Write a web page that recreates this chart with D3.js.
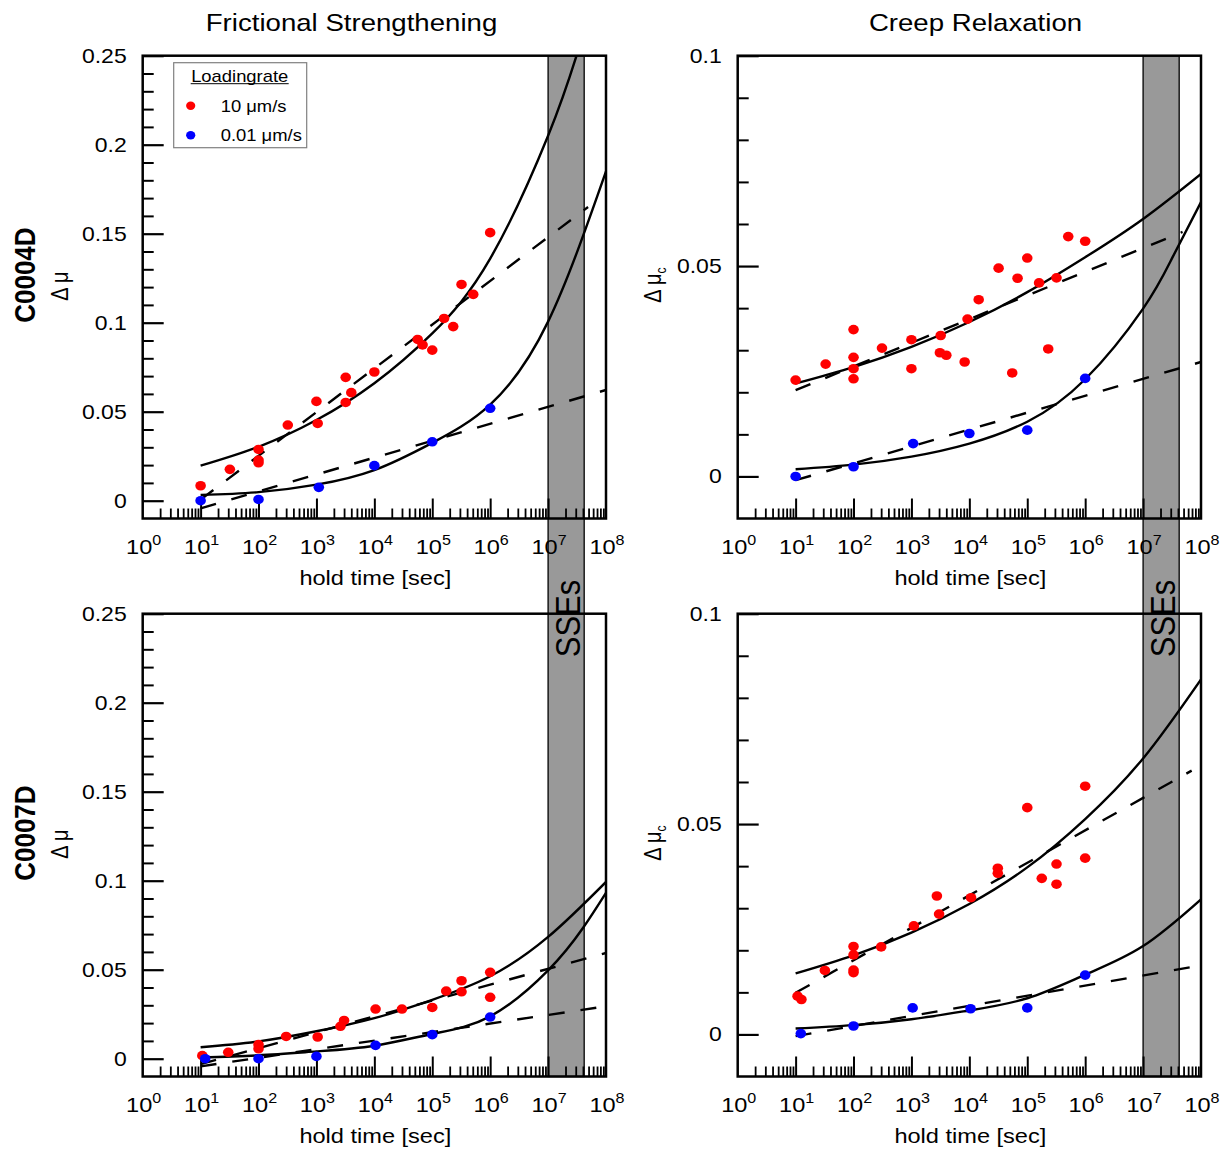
<!DOCTYPE html>
<html>
<head>
<meta charset="utf-8">
<script src="https://cdn.jsdelivr.net/npm/d3@7"></script>
<style>
  body { margin: 0; background: #fff; }
  svg { display: block; }
  text { font-family: "Liberation Sans", Arial, sans-serif; fill: #000; }
</style>
</head>
<body>
<svg id="chart" width="1227" height="1151"></svg>
<script>
// ---------- labels and ticks ----------
const columnTitles = ["Frictional Strengthening", "Creep Relaxation"];
const rowLabels = ["C0004D", "C0007D"];
const seriesLabels = ["10 μm/s", "0.01 μm/s"];
const legendTitle = "Loadingrate";
const xAxisLabel = "hold time [sec]";
const bandLabel = "SSEs";
const decadeExponents = [0, 1, 2, 3, 4, 5, 6, 7, 8];
const frictionYTicks = [0, 0.05, 0.1, 0.15, 0.2, 0.25];
const creepYTicks = [0, 0.05, 0.1];
const sseWindow = [1e7, 4.2e7];
const decadeTimes = [10, 1e2, 1e3, 1e4, 1e5, 1e6, 1e7, 1e8];

// ---------- C0004D, frictional strengthening ----------
const fs04FastTime = [10, 32, 100, 100, 100, 320, 1000, 1050, 3200, 3200, 4000, 1e4, 5.6e4, 6.8e4, 1e5, 1.6e5, 2.3e5, 3.2e5, 5.1e5, 1e6];
const fs04FastMu   = [0.0084, 0.0176, 0.0288, 0.0228, 0.0213, 0.0425, 0.0558, 0.0434, 0.0693, 0.0552, 0.0607, 0.0723, 0.0906, 0.0875, 0.0846, 0.1024, 0.0978, 0.1215, 0.1159, 0.1506];
const fs04SlowTime = [10, 100, 1100, 1e4, 1e5, 1e6];
const fs04SlowMu   = [0.0, 0.0007, 0.0075, 0.0197, 0.0331, 0.0519];
const fs04FastFitTime = [10, 1e2, 1e3, 1e4, 1e5, 1e6, 1e7, 3.1e7];
const fs04FastFitMu   = [0.0197, 0.0303, 0.0453, 0.066, 0.094, 0.136, 0.205, 0.25];
const fs04SlowFitMu   = [0.0032, 0.0048, 0.0090, 0.0172, 0.0325, 0.054, 0.1006, 0.185];
const fs04FastTrendTime = [10, 4.9e7];
const fs04FastTrendMu   = [0.0006, 0.165];
const fs04SlowTrendTime = [10, 1e8];
const fs04SlowTrendMu   = [-0.0043, 0.0622];

// ---------- C0004D, creep relaxation ----------
const cr04FastTime = [10, 33, 100, 100, 100, 100, 310, 1000, 1000, 3200, 3100, 4000, 8300, 9300, 14500, 32000, 55000, 68000, 1e5, 1.6e5, 2.3e5, 3.2e5, 5.1e5, 1e6];
const cr04FastMu   = [0.0229, 0.0267, 0.0349, 0.0283, 0.0256, 0.0232, 0.0305, 0.0325, 0.0256, 0.0335, 0.0294, 0.0288, 0.0272, 0.0374, 0.042, 0.0495, 0.0246, 0.0471, 0.0519, 0.046, 0.0303, 0.0472, 0.057, 0.0559];
const cr04SlowTime = [10, 100, 1070, 1e4, 1e5, 1e6];
const cr04SlowMu   = [0.0, 0.0023, 0.0078, 0.0102, 0.011, 0.0233];
const cr04FastFitMu   = [0.0221, 0.026, 0.0308, 0.0367, 0.0438, 0.0521, 0.0612, 0.0719];
const cr04SlowFitTime = [10, 1e2, 1e3, 1e4, 1e5, 1e6, 1e7, 3.2e7, 1e8];
const cr04SlowFitMu   = [0.0017, 0.0028, 0.0047, 0.0078, 0.013, 0.0231, 0.0399, 0.052, 0.0652];
const cr04FastTrendTime = [10, 4.8e7];
const cr04FastTrendMu   = [0.0205, 0.0581];
const cr04SlowTrendTime = [10, 1e8];
const cr04SlowTrendMu   = [-0.0009, 0.0272];

// ---------- C0007D, frictional strengthening ----------
const fs07FastTime = [10.7, 30, 100, 100, 300, 1050, 2600, 3000, 1.05e4, 3e4, 1e5, 1.74e5, 3.2e5, 3.2e5, 1e6, 1e6];
const fs07FastMu   = [0.0017, 0.0036, 0.0079, 0.0056, 0.0125, 0.0122, 0.0182, 0.0215, 0.0279, 0.0279, 0.0288, 0.038, 0.0438, 0.0376, 0.0485, 0.0345];
const fs07SlowTime = [12, 100, 1000, 1.05e4, 1e5, 1e6];
const fs07SlowMu   = [0.0, 0.0, 0.0013, 0.0075, 0.0135, 0.0234];
const fs07FastFitMu   = [0.0064, 0.0097, 0.0154, 0.0228, 0.0331, 0.0463, 0.0684, 0.0993];
const fs07SlowFitTime = [10, 1e2, 1e3, 1e4, 1e5, 1e6, 1e7, 4e7, 1e8];
const fs07SlowFitMu   = [0.0007, 0.0019, 0.0041, 0.0073, 0.0139, 0.0238, 0.0496, 0.0734, 0.0932];
const fs07FastTrendTime = [10, 1e8];
const fs07FastTrendMu   = [-0.003, 0.0594];
const fs07SlowTrendTime = [10, 1e8];
const fs07SlowTrendMu   = [-0.0043, 0.0294];

// ---------- C0007D, creep relaxation ----------
const cr07FastTime = [10.8, 12.6, 32, 100, 100, 100, 100, 300, 1100, 2750, 3000, 1.07e4, 3.1e4, 3.1e4, 1e5, 1.78e5, 3.2e5, 3.2e5, 1e6, 1e6];
const cr07FastMu   = [0.0091, 0.0083, 0.0152, 0.0209, 0.0189, 0.0153, 0.0147, 0.0208, 0.0258, 0.0329, 0.0286, 0.0325, 0.0395, 0.0383, 0.0539, 0.0371, 0.0405, 0.0357, 0.059, 0.0419];
const cr07SlowTime = [12.3, 100, 1050, 1.05e4, 1e5, 1e6];
const cr07SlowMu   = [0.0002, 0.002, 0.0063, 0.0061, 0.0063, 0.0141];
const cr07FastFitMu = [0.0145, 0.0188, 0.0242, 0.031, 0.0397, 0.0512, 0.0656, 0.0844];
const cr07SlowFitMu = [0.0014, 0.0022, 0.0036, 0.0057, 0.0086, 0.0142, 0.021, 0.0321];
const cr07FastTrendTime = [10, 6.9e7];
const cr07FastTrendMu   = [0.0099, 0.0627];
const cr07SlowTrendTime = [10, 1e8];
const cr07SlowTrendMu   = [-0.0004, 0.0164];

// ---------- layout ----------
const SX = 1.15;                 // horizontal stretch applied to all lettering
const colLeft = [142.7, 737.7];
const rowTop = [55.7, 613.7];
const PW = 463.3, PH = 462.8;
const FAST = "#ff0000", SLOW = "#0000ff";

const zip = (a, b) => a.map((v, i) => [v, b[i]]);

const panels = [
  { col: 0, row: 0, yMax: 0.25, yTicks: frictionYTicks, legend: true,
    fast: zip(fs04FastTime, fs04FastMu), slow: zip(fs04SlowTime, fs04SlowMu),
    fastFit: zip(fs04FastFitTime, fs04FastFitMu), slowFit: zip(decadeTimes, fs04SlowFitMu),
    fastTrend: zip(fs04FastTrendTime, fs04FastTrendMu), slowTrend: zip(fs04SlowTrendTime, fs04SlowTrendMu) },
  { col: 1, row: 0, yMax: 0.1, yTicks: creepYTicks,
    fast: zip(cr04FastTime, cr04FastMu), slow: zip(cr04SlowTime, cr04SlowMu),
    fastFit: zip(decadeTimes, cr04FastFitMu), slowFit: zip(cr04SlowFitTime, cr04SlowFitMu),
    fastTrend: zip(cr04FastTrendTime, cr04FastTrendMu), slowTrend: zip(cr04SlowTrendTime, cr04SlowTrendMu) },
  { col: 0, row: 1, yMax: 0.25, yTicks: frictionYTicks,
    fast: zip(fs07FastTime, fs07FastMu), slow: zip(fs07SlowTime, fs07SlowMu),
    fastFit: zip(decadeTimes, fs07FastFitMu), slowFit: zip(fs07SlowFitTime, fs07SlowFitMu),
    fastTrend: zip(fs07FastTrendTime, fs07FastTrendMu), slowTrend: zip(fs07SlowTrendTime, fs07SlowTrendMu) },
  { col: 1, row: 1, yMax: 0.1, yTicks: creepYTicks,
    fast: zip(cr07FastTime, cr07FastMu), slow: zip(cr07SlowTime, cr07SlowMu),
    fastFit: zip(decadeTimes, cr07FastFitMu), slowFit: zip(decadeTimes, cr07SlowFitMu),
    fastTrend: zip(cr07FastTrendTime, cr07FastTrendMu), slowTrend: zip(cr07SlowTrendTime, cr07SlowTrendMu) }
];

const svg = d3.select("#chart");
const defs = svg.append("defs");
const bandLayer = svg.append("g");
const plotLayer = svg.append("g");
const textLayer = svg.append("g");

// stretched text helper
function addText(parent, x, y, opts = {}) {
  const { size = 19, anchor = "start", weight = "normal", rotate = 0 } = opts;
  return parent.append("text")
    .attr("transform", `translate(${x},${y}) scale(${SX},1)` + (rotate ? ` rotate(${rotate})` : ""))
    .attr("font-size", size)
    .attr("text-anchor", anchor)
    .attr("font-weight", weight);
}

const xScales = colLeft.map(l => d3.scaleLog().domain([1, 1e8]).range([l, l + PW]));

// SSE window band spanning both rows of each column
colLeft.forEach((l, c) => {
  const x = xScales[c];
  const bx0 = x(sseWindow[0]), bx1 = x(sseWindow[1]);
  bandLayer.append("rect")
    .attr("x", bx0).attr("y", rowTop[0])
    .attr("width", bx1 - bx0).attr("height", rowTop[1] + PH - rowTop[0])
    .attr("fill", "#999999").attr("stroke", "#000").attr("stroke-width", 1.3);
  addText(textLayer, bx1 - 4, rowTop[0] + PH + 100, { size: 31, anchor: "middle", rotate: -90 })
    .attr("fill", "#1a1a1a").text(bandLabel);
});

const xMajor = d3.range(1, 8).map(e => Math.pow(10, e));
const xMinor = [];
for (let e = 0; e < 8; e++) for (let k = 2; k <= 9; k++) xMinor.push(k * Math.pow(10, e));

panels.forEach(p => {
  const x0 = colLeft[p.col], y0 = rowTop[p.row];
  const x = xScales[p.col];
  const y = d3.scaleLinear().domain([-0.01, p.yMax]).range([y0 + PH, y0]);
  const g = plotLayer.append("g");
  const clipId = `clip-${p.col}-${p.row}`;
  defs.append("clipPath").attr("id", clipId)
    .append("rect").attr("x", x0).attr("y", y0).attr("width", PW).attr("height", PH);

  const styleAxis = (sel, w) => {
    sel.select(".domain").remove();
    sel.selectAll(".tick line").attr("stroke", "#000").attr("stroke-width", w);
  };

  // inward ticks on the bottom edge
  g.append("g").attr("transform", `translate(0,${y0 + PH})`)
    .call(d3.axisBottom(x).tickValues(xMinor).tickSize(-10).tickFormat(""))
    .call(s => styleAxis(s, 1.8));
  g.append("g").attr("transform", `translate(0,${y0 + PH})`)
    .call(d3.axisBottom(x).tickValues(xMajor).tickSize(-20).tickFormat(""))
    .call(s => styleAxis(s, 2));

  // inward ticks on the left edge
  const nSteps = Math.round(p.yMax * 100);
  const yMinor = d3.range(1, nSteps).map(i => i / 100).filter(v => Math.round(v * 100) % 5 !== 0);
  g.append("g").attr("transform", `translate(${x0},0)`)
    .call(d3.axisLeft(y).tickValues(yMinor).tickSize(-11).tickFormat(""))
    .call(s => styleAxis(s, 2));
  g.append("g").attr("transform", `translate(${x0},0)`)
    .call(d3.axisLeft(y).tickValues(p.yTicks).tickSize(-21).tickFormat(""))
    .call(s => styleAxis(s, 2.2));

  // frame
  g.append("rect").attr("x", x0).attr("y", y0).attr("width", PW).attr("height", PH)
    .attr("fill", "none").attr("stroke", "#000").attr("stroke-width", 2.5);

  // tick labels
  decadeExponents.forEach(e => {
    const t = addText(textLayer, x(Math.pow(10, e)) + 1, y0 + PH + 35, { size: 20.5, anchor: "middle" });
    t.append("tspan").text("10");
    t.append("tspan").attr("font-size", 14).attr("dy", -8.5).text(String(e));
  });
  p.yTicks.forEach(v => {
    addText(textLayer, x0 - 16, y(v) + 7, { size: 20, anchor: "end" })
      .text(String(+v.toFixed(2)));
  });
  addText(textLayer, x0 + PW / 2 + 1, y0 + PH + 66, { size: 20.5, anchor: "middle" }).text(xAxisLabel);

  // fitted curves and log-linear trends
  const line = d3.line().x(d => x(d[0])).y(d => y(d[1]));
  const curves = g.append("g").attr("clip-path", `url(#${clipId})`)
    .attr("fill", "none").attr("stroke", "#000").attr("stroke-width", 2.4);
  [p.fastFit, p.slowFit].forEach(d => {
    curves.append("path").attr("d", line.curve(d3.curveNatural)(d));
  });
  [p.fastTrend, p.slowTrend].forEach(d => {
    curves.append("path").attr("d", line.curve(d3.curveLinear)(d))
      .attr("stroke-dasharray", "16,16");
  });

  // measurements
  const dots = g.append("g").attr("clip-path", `url(#${clipId})`);
  dots.selectAll(".fast").data(p.fast).join("ellipse").attr("class", "fast")
    .attr("cx", d => x(d[0])).attr("cy", d => y(d[1])).attr("rx", 5.3).attr("ry", 4.8).attr("fill", FAST);
  dots.selectAll(".slow").data(p.slow).join("ellipse").attr("class", "slow")
    .attr("cx", d => x(d[0])).attr("cy", d => y(d[1])).attr("rx", 5.3).attr("ry", 4.8).attr("fill", SLOW);

  // legend
  if (p.legend) {
    const lg = g.append("g");
    lg.append("rect").attr("x", x0 + 31).attr("y", y0 + 7).attr("width", 133).attr("height", 85)
      .attr("fill", "#fff").attr("stroke", "#808080").attr("stroke-width", 1.2);
    addText(lg, x0 + 97, y0 + 26, { size: 16, anchor: "middle" }).text(legendTitle);
    lg.append("line").attr("x1", x0 + 48).attr("x2", x0 + 146).attr("y1", y0 + 28).attr("y2", y0 + 28)
      .attr("stroke", "#000").attr("stroke-width", 1);
    [FAST, SLOW].forEach((c, i) => {
      lg.append("ellipse").attr("cx", x0 + 48).attr("cy", y0 + 50 + i * 29.6)
        .attr("rx", 4.6).attr("ry", 4.2).attr("fill", c);
      addText(lg, x0 + 78, y0 + 56 + i * 29.6, { size: 16 }).text(seriesLabels[i]);
    });
  }
});

// column titles
addText(textLayer, 351.5, 31, { size: 24, anchor: "middle" }).text(columnTitles[0]);
addText(textLayer, 975.5, 31, { size: 24, anchor: "middle" }).text(columnTitles[1]);

// row labels and y-axis titles
rowTop.forEach((t, r) => {
  const cy = t + PH / 2;
  addText(textLayer, 35, cy - 12, { size: 26, weight: "bold", anchor: "middle", rotate: -90 }).text(rowLabels[r]);
  addText(textLayer, 68, cy - 1, { size: 20, anchor: "middle", rotate: -90 }).text("Δ μ");
  const lc = addText(textLayer, 661, cy - 2, { size: 20, anchor: "middle", rotate: -90 });
  lc.append("tspan").text("Δ μ");
  lc.append("tspan").attr("font-size", 12).attr("dy", 4).text("c");
});
</script>
</body>
</html>
